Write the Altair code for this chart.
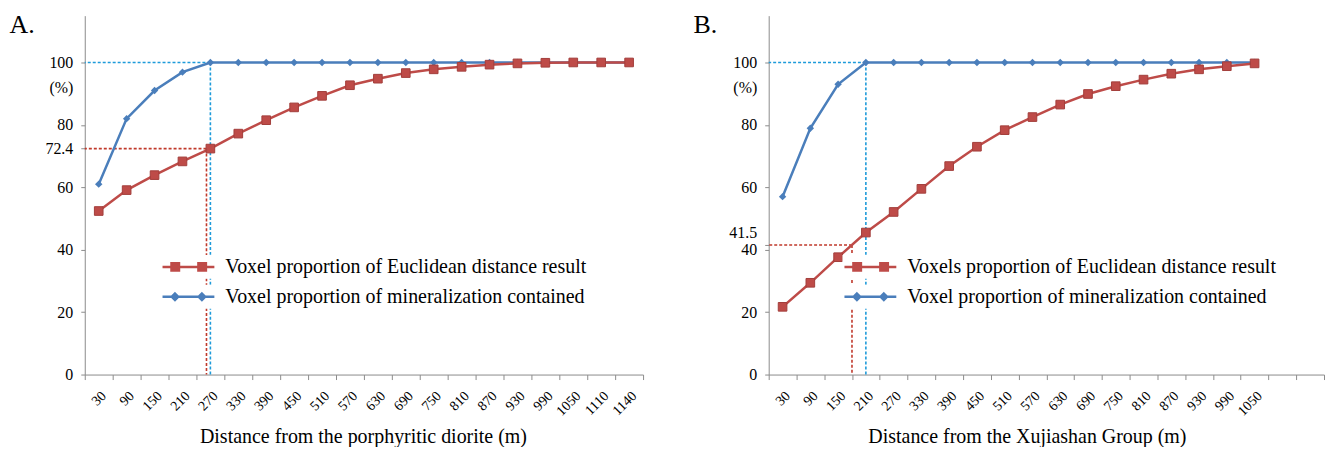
import altair as alt
import pandas as pd

FONT = "Liberation Serif, Times New Roman, serif"
GRAY = "#8c8c8c"
RED = "#BE4B48"
RED_EDGE = "#A33E3B"
BLUE = "#4A7EBB"
RED_DOT = "#C0392B"
BLUE_DOT = "#1E9BDA"

# ---------------- data ----------------
A_DIST = ["30", "90", "150", "210", "270", "330", "390", "450", "510", "570",
          "630", "690", "750", "810", "870", "930", "990", "1050", "1110", "1140"]
A_EUCLID = [52.4, 59.1, 63.9, 68.3, 72.4, 77.2, 81.5, 85.6, 89.3, 92.7,
            94.8, 96.6, 97.8, 98.6, 99.3, 99.7, 99.9, 100.0, 100.0, 100.0]
A_MINER = [61.0, 82.0, 91.0, 96.9, 100.0, 100.0, 100.0, 100.0, 100.0, 100.0,
           100.0, 100.0, 100.0, 100.0, 100.0, 100.0, 100.0, 100.0, 100.0, 100.0]
A_EUCLID_LABEL = "Voxel proportion of Euclidean distance result"
A_MINER_LABEL = "Voxel proportion of mineralization contained"
A_XTITLE = "Distance from the porphyritic diorite (m)"
A_TAG = "A."
A_REF_EUCLID = 72.4
A_REF_EUCLID_CAT = "270"
A_REF_MINER = 100
A_REF_MINER_CAT = "270"

B_DIST = ["30", "90", "150", "210", "270", "330", "390", "450", "510", "570",
          "630", "690", "750", "810", "870", "930", "990", "1050"]
B_GAPS = ["gap1", "gap2"]
B_EUCLID = [21.7, 29.4, 37.6, 45.5, 52.1, 59.5, 66.8, 73.0, 78.3, 82.5,
            86.5, 89.9, 92.4, 94.5, 96.4, 97.8, 98.8, 99.7]
B_MINER = [57.0, 78.9, 93.0, 100.0, 100.0, 100.0, 100.0, 100.0, 100.0, 100.0,
           100.0, 100.0, 100.0, 100.0, 100.0, 100.0, 100.0, 100.0]
B_EUCLID_LABEL = "Voxels proportion of Euclidean distance result"
B_MINER_LABEL = "Voxel proportion of mineralization contained"
B_XTITLE = "Distance from the Xujiashan Group (m)"
B_TAG = "B."
B_REF_EUCLID = 41.5
B_REF_EUCLID_CAT = "210"
B_REF_MINER = 100
B_REF_MINER_CAT = "210"

Y_TICKS = [0, 20, 40, 60, 80, 100]
UNIT_LABEL = "(%)"
UNIT_POS = 92

# legend symbol paths (line with two markers)
PATH_SQ = "M-5.2,0H5.2M-3.4,-0.75H-1.9V0.75H-3.4ZM2.0,-0.75H3.5V0.75H2.0Z"
PATH_DI = "M-5.2,0H5.2M-2.7,-0.65L-2.05,0L-2.7,0.65L-3.35,0ZM2.7,-0.65L3.35,0L2.7,0.65L2.05,0Z"


def make_legend(lx, ly, path, col):
    return alt.Legend(
        orient="none", legendX=lx, legendY=ly, direction="vertical",
        title=None, labelFont=FONT, labelFontSize=20, labelColor="black",
        labelLimit=0, symbolSize=100, symbolStrokeWidth=2.5,
        symbolType=path, symbolFillColor=col, symbolStrokeColor=col,
        symbolOpacity=1, symbolOffset=16, labelOffset=27, padding=2,
        fillColor="white",
    )


def panel(cats, gaps, euclid, miner, e_label, m_label, tag, xtitle,
          ref_e, ref_e_cat, band_e, ref_m, ref_m_cat, width,
          title_x, legend_x, shift_ref_label):
    domain = cats + gaps
    df_e = pd.DataFrame({"dist": cats, "value": euclid, "series": e_label})
    df_m = pd.DataFrame({"dist": cats, "value": miner, "series": m_label})
    ref_e_df = pd.DataFrame({"dist": [ref_e_cat], "value": [ref_e], "zero": [0]})
    ref_m_df = pd.DataFrame({"dist": [ref_m_cat], "value": [ref_m], "zero": [0]})

    yvals = sorted(set(Y_TICKS + [ref_e, UNIT_POS]))
    label_expr = f"datum.value == {UNIT_POS} ? '{UNIT_LABEL}' : toString(datum.value)"
    y_axis_kw = dict(
        title=tag, titleAngle=0, titleX=-76, titleY=17, titleAlign="left",
        titleBaseline="alphabetic", titleFont=FONT, titleFontSize=26,
        titleFontWeight="normal", titleColor="black",
        values=yvals, labelExpr=label_expr, labelFont=FONT, labelFontSize=16,
        labelColor="black", labelPadding=8, tickSize=4, tickColor=GRAY,
        domainColor=GRAY, grid=False,
        tickOpacity={"condition": {"test": f"datum.value == {UNIT_POS}", "value": 0}, "value": 1},
    )
    if shift_ref_label:
        y_axis_kw["labelOffset"] = {"condition": {"test": f"datum.value == {ref_e}", "value": -13}, "value": 0}
    y_axis = alt.Axis(**y_axis_kw)
    gap_list = "[" + ",".join(f"'{g}'" for g in gaps) + "]"
    x_axis = alt.Axis(
        title=xtitle, titleFont=FONT, titleFontSize=20, titleFontWeight="normal",
        titleColor="black", titleX=title_x, titleY=68, titleAlign="center",
        titleBaseline="alphabetic",
        labelAngle=-45, labelFont=FONT, labelFontSize=14, labelColor="black",
        labelPadding=9, tickSize=5, tickColor=GRAY, domainColor=GRAY,
        tickBand="extent", grid=False,
        labelExpr=f"indexof({gap_list}, datum.value) >= 0 ? '' : datum.value",
    )
    xscale = alt.Scale(type="band", domain=domain, paddingInner=0, paddingOuter=0)
    yscale = alt.Scale(domain=[0, 115], nice=False)

    def X(band=0.5):
        return alt.X("dist:N", scale=xscale, axis=x_axis, bandPosition=band)

    def Y():
        return alt.Y("value:Q", scale=yscale, axis=y_axis)

    color_e = alt.Color("series:N", scale=alt.Scale(domain=[e_label], range=[RED]),
                        legend=make_legend(legend_x, 240, PATH_SQ, RED))
    color_m = alt.Color("series:N", scale=alt.Scale(domain=[m_label], range=[BLUE]),
                        legend=make_legend(legend_x, 270, PATH_DI, BLUE))

    dot = dict(strokeDash=[3, 2], strokeWidth=1.6)
    m_h = alt.Chart(ref_m_df).mark_rule(color=BLUE_DOT, **dot).encode(
        x=X(0.5), x2=alt.value(0), y=Y())
    m_v = alt.Chart(ref_m_df).mark_rule(color=BLUE_DOT, **dot).encode(
        x=X(0.5), y=Y(), y2="zero:Q")
    e_h = alt.Chart(ref_e_df).mark_rule(color=RED_DOT, **dot).encode(
        x=X(band_e), x2=alt.value(0), y=Y())
    e_v = alt.Chart(ref_e_df).mark_rule(color=RED_DOT, **dot).encode(
        x=X(band_e), y=Y(), y2="zero:Q")

    m_line = alt.Chart(df_m).mark_line(strokeWidth=2.5, color=BLUE).encode(x=X(), y=Y())
    m_pts = alt.Chart(df_m).mark_point(shape="diamond", filled=True, size=55,
                                       opacity=1).encode(x=X(), y=Y(), color=color_m)
    e_line = alt.Chart(df_e).mark_line(strokeWidth=2.5, color=RED).encode(x=X(), y=Y())
    e_pts = alt.Chart(df_e).mark_point(shape="square", filled=True, size=75,
                                       stroke=RED_EDGE, strokeWidth=1,
                                       opacity=1).encode(x=X(), y=Y(), color=color_e)

    return alt.layer(m_h, m_v, e_h, e_v, m_line, m_pts, e_line, e_pts).resolve_scale(
        color="independent").properties(width=width, height=360)


pa = panel(A_DIST, [], A_EUCLID, A_MINER, A_EUCLID_LABEL, A_MINER_LABEL, A_TAG, A_XTITLE,
           A_REF_EUCLID, A_REF_EUCLID_CAT, 0.36, A_REF_MINER, A_REF_MINER_CAT, 560,
           279, 76, False)
pb = panel(B_DIST, B_GAPS, B_EUCLID, B_MINER, B_EUCLID_LABEL, B_MINER_LABEL, B_TAG, B_XTITLE,
           B_REF_EUCLID, B_REF_EUCLID_CAT, 0.0, B_REF_MINER, B_REF_MINER_CAT, 557,
           259, 74, True)

chart = alt.hconcat(pa, pb, spacing=49).resolve_scale(color="independent").properties(
    padding={"left": 1, "top": 3, "right": 0, "bottom": 0}
).configure_view(stroke=None)

chart.save("out.html", embed_options={"renderer": "svg", "actions": False})
